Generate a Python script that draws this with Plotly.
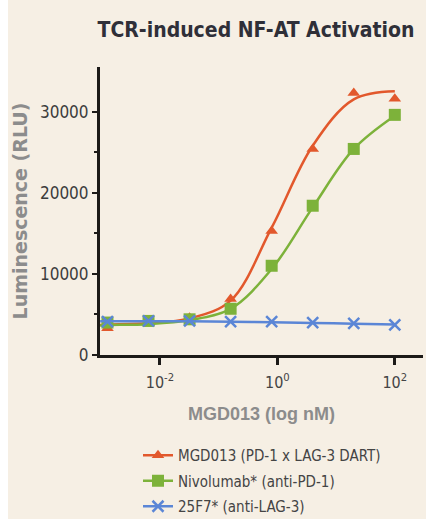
import plotly.graph_objects as go

# ---- data ----
conc_nM = [0.00128, 0.0064, 0.032, 0.16, 0.8, 4, 20, 100]
mgd013 = [3300, 4000, 4600, 6900, 15300, 25400, 32300, 31600]
nivolumab = [4000, 4200, 4400, 5700, 11000, 18400, 25400, 29600]
anti_lag3 = [4100, 4200, 4200, 4100, 4100, 4000, 3900, 3700]

# fitted curves
fit_conc = [0.00096, 0.00128, 0.0064, 0.032, 0.16, 0.8, 4, 20, 100]
mgd013_fit = [3700, 3750, 3900, 4500, 6700, 15700, 25800, 31500, 32500]
nivolumab_fit = [3650, 3700, 3800, 4300, 5700, 10600, 18200, 25400, 29500]
anti_lag3_fit = [4150, 4150, 4150, 4150, 4100, 4050, 3950, 3850, 3750]

x_tick_vals = [0.01, 1, 100]
x_tick_text = ["10<sup>-2</sup>", "10<sup>0</sup>", "10<sup>2</sup>"]
y_tick_vals = [0, 10000, 20000, 30000]
y_tick_text = ["0", "10000", "20000", "30000"]

names = ["MGD013 (PD-1 x LAG-3 DART)", "Nivolumab* (anti-PD-1)", "25F7* (anti-LAG-3)"]
colors = ["#e2582c", "#7db23a", "#5b86d6"]
symbols = ["triangle-up", "square", "x-thin-open"]
sizes = [11, 12, 11]

NARROW = "DejaVu Sans Condensed, Roboto, sans-serif"
BG = "#f6efe4"
L, R, T, B = 100, 3, 67, 164
W, H = 426, 519
PW, PH = W - L - R, H - T - B

fig = go.Figure()
series = [mgd013, nivolumab, anti_lag3]
fits = [mgd013_fit, nivolumab_fit, anti_lag3_fit]
for i in range(3):
    marker = dict(symbol=symbols[i], size=sizes[i], color=colors[i],
                  line=dict(color=colors[i], width=2.5 if i == 2 else 0))
    fig.add_trace(go.Scatter(x=fit_conc, y=fits[i], mode="lines",
                             line=dict(color=colors[i], width=2.5, shape="spline"),
                             showlegend=False, hoverinfo="skip", legendgroup=f"g{i}"))
    fig.add_trace(go.Scatter(x=conc_nM, y=series[i], mode="markers", marker=marker,
                             showlegend=False, legendgroup=f"g{i}", name=names[i]))
    fig.add_trace(go.Scatter(x=[None], y=[None], mode="lines+markers", marker=marker,
                             line=dict(color=colors[i], width=2.5),
                             name=names[i], legendgroup=f"g{i}", showlegend=True))

# background panel (white strip at top/left as in the reference)
fig.add_shape(type="rect", xref="paper", yref="paper",
              x0=(8 - L) / PW, x1=(W + 5 - L) / PW,
              y0=-(H + 5 - T - PH) / PH, y1=(H - T - 5) / PH,
              fillcolor=BG, line_width=0, layer="below")

axis_color = "#1c1a18"
fig.update_layout(
    width=W, height=H,
    margin=dict(l=L, r=R, t=T, b=B, autoexpand=False),
    paper_bgcolor="white",
    plot_bgcolor="rgba(0,0,0,0)",
    title=dict(text="<b>TCR-induced NF-AT Activation</b>",
               font=dict(family=NARROW, size=21, color="#2f2f38"),
               x=256 / W, xanchor="center", y=1 - 30 / H, yanchor="middle"),
    xaxis=dict(type="log", range=[-3.02, 2.48],
               tickvals=x_tick_vals, ticktext=x_tick_text,
               showgrid=False, zeroline=False,
               showline=True, linecolor=axis_color, linewidth=3,
               ticks="outside", ticklen=7, tickwidth=2.5, tickcolor=axis_color,
               ticklabelstandoff=4,
               tickfont=dict(family=NARROW, size=16, color="#444444"),
               title=dict(text="<b>MGD013 (log nM)</b>", standoff=17,
                          font=dict(family="Liberation Sans", size=18, color="#8c8c8c"))),
    yaxis=dict(range=[0, 35500], tickvals=y_tick_vals, ticktext=y_tick_text,
               showgrid=False, zeroline=False,
               showline=True, linecolor=axis_color, linewidth=3,
               ticks="outside", ticklen=5, tickwidth=2, tickcolor=axis_color,
               minor=dict(tickvals=[5000, 15000, 25000], ticks="outside", ticklen=3,
                          tickwidth=2, tickcolor=axis_color),
               tickfont=dict(family=NARROW, size=17, color="#3c3c3c"),
               title=dict(text="<b>Luminescence (RLU)</b>", standoff=8,
                          font=dict(family="DejaVu Sans", size=19, color="#8c8c8c"))),
    legend=dict(x=(138 - L) / PW, xanchor="left", y=-(439 - (T + PH)) / PH, yanchor="top",
                bgcolor="rgba(0,0,0,0)", tracegroupgap=3,
                font=dict(family=NARROW, size=15, color="#444444")),
)

fig.write_html("out.html")
